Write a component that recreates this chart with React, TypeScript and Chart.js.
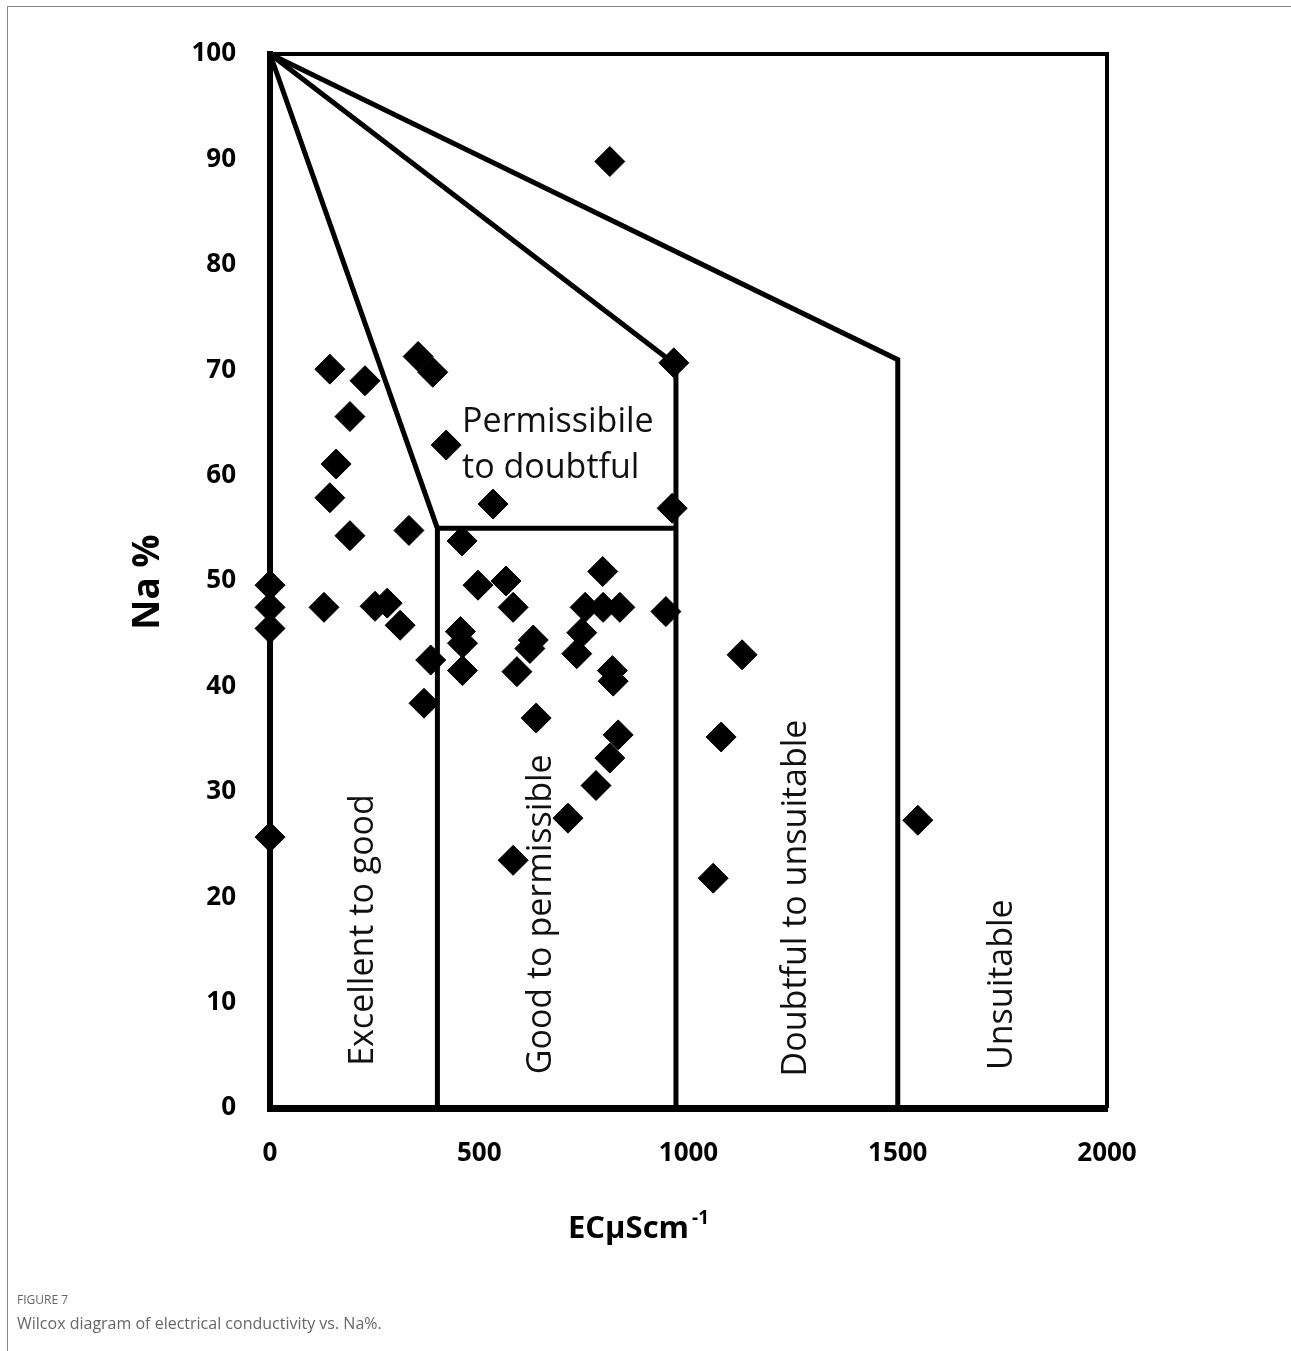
import React, { useEffect, useRef } from "react";
import { Chart, registerables } from "chart.js";

Chart.register(...registerables);

// ---- Data (EC in µS/cm, Na %) ----
const ecValues = [
  812, 965, 143, 227, 354, 389, 191, 421, 158, 143, 533, 961, 191, 332, 459,
  0, 0, 0, 129, 251, 280, 311, 384, 368, 497, 564, 581, 455, 460, 460,
  629, 621, 590, 795, 753, 796, 836, 946, 745, 733, 818, 820, 636, 832, 812,
  779, 712, 581, 1128, 1078, 1059, 1548, 0,
];
const naValues = [
  89.8, 70.7, 70.1, 69.0, 71.3, 69.8, 65.6, 62.9, 61.1, 57.9, 57.3, 56.9, 54.3, 54.8, 53.8,
  49.6, 47.5, 45.5, 47.5, 47.6, 47.9, 45.8, 42.5, 38.4, 49.6, 50.0, 47.5, 45.2, 44.1, 41.5,
  44.4, 43.6, 41.4, 50.9, 47.5, 47.5, 47.5, 47.1, 45.1, 43.1, 41.5, 40.5, 37.0, 35.4, 33.2,
  30.6, 27.5, 23.5, 43.0, 35.2, 21.8, 27.3, 25.7,
];

// ---- Wilcox class boundaries ----
const excellentBoundaryX = [0, 400, 400];
const excellentBoundaryY = [100, 55, 0];
const goodBoundaryX = [400, 970];
const goodBoundaryY = [55, 55];
const permissibleBoundaryX = [0, 970, 970];
const permissibleBoundaryY = [100, 70.5, 0];
const doubtfulBoundaryX = [0, 1500, 1500];
const doubtfulBoundaryY = [100, 71, 0];

// ---- Axis ticks ----
const xTickValues = [0, 500, 1000, 1500, 2000];
const yTickValues = [0, 10, 20, 30, 40, 50, 60, 70, 80, 90, 100];

// ---- Zone labels ----
const zoneLabels = ["Excellent to good", "Good to permissible", "Doubtful to unsuitable", "Unsuitable"];
const zoneLabelX = [222, 648, 1258, 1749];
const zoneLabelStartY = [4.0, 3.2, 3.0, 3.6];
const permissibleLabels = ["Permissibile", "to doubtful"];
const permissibleLabelX = [459, 459];
const permissibleLabelY = [64.1, 59.8];

const yTitle = "Na %";
const xTitleMain = "ECμScm";
const xTitleSup = "-1";

const toPoints = (xs: number[], ys: number[]) => xs.map((x, i) => ({ x, y: ys[i] }));

const boundaryDataset = (xs: number[], ys: number[]) => ({
  data: toPoints(xs, ys),
  showLine: true,
  borderColor: "#000",
  borderWidth: 5,
  pointRadius: 0,
  borderJoinStyle: "miter" as const,
  clip: false as const,
});

const textPlugin = {
  id: "wilcoxText",
  beforeDatasetsDraw(chart: any) {
    const { ctx, chartArea, scales } = chart;
    const xs = scales.x;
    const ys = scales.y;
    ctx.save();
    // frame (top and right)
    ctx.strokeStyle = "#000";
    ctx.lineWidth = 4;
    ctx.beginPath();
    ctx.moveTo(chartArea.left, chartArea.top);
    ctx.lineTo(chartArea.right, chartArea.top);
    ctx.lineTo(chartArea.right, chartArea.bottom);
    ctx.stroke();

    ctx.fillStyle = "#111";
    ctx.font = "34px 'Open Sans'";
    ctx.textAlign = "left";
    ctx.textBaseline = "middle";
    zoneLabels.forEach((label, i) => {
      const px = xs.getPixelForValue(zoneLabelX[i]);
      const py = ys.getPixelForValue(zoneLabelStartY[i]);
      ctx.save();
      ctx.translate(px, py);
      ctx.rotate(-Math.PI / 2);
      ctx.fillText(label, 0, 0);
      ctx.restore();
    });
    ctx.textBaseline = "alphabetic";
    permissibleLabels.forEach((label, i) => {
      ctx.fillText(label, xs.getPixelForValue(permissibleLabelX[i]), ys.getPixelForValue(permissibleLabelY[i]));
    });
    ctx.restore();
  },
  afterDraw(chart: any) {
    const { ctx, chartArea } = chart;
    ctx.save();
    ctx.fillStyle = "#000";
    // y title
    ctx.font = "bold 37px 'Open Sans'";
    ctx.textAlign = "center";
    ctx.textBaseline = "middle";
    ctx.save();
    ctx.translate(148, (chartArea.top + chartArea.bottom) / 2 + 1);
    ctx.rotate(-Math.PI / 2);
    ctx.fillText(yTitle, 0, 0);
    ctx.restore();
    // x title with superscript
    ctx.textAlign = "left";
    ctx.textBaseline = "alphabetic";
    ctx.font = "bold 31px 'Open Sans'";
    const wMain = ctx.measureText(xTitleMain).width;
    ctx.font = "bold 19px 'Open Sans'";
    const wSup = ctx.measureText(xTitleSup).width;
    const cx = (chartArea.left + chartArea.right) / 2 - 50;
    const startX = cx - (wMain + wSup + 3) / 2;
    const baseY = chartArea.bottom + 130;
    ctx.font = "bold 31px 'Open Sans'";
    ctx.fillText(xTitleMain, startX, baseY);
    ctx.font = "bold 19px 'Open Sans'";
    ctx.fillText(xTitleSup, startX + wMain + 3, baseY - 14);
    ctx.restore();
  },
};

export default function App() {
  const canvasRef = useRef<HTMLCanvasElement | null>(null);

  useEffect(() => {
    const canvas = canvasRef.current;
    if (!canvas) return;
    const chart = new Chart(canvas, {
      type: "scatter",
      data: {
        datasets: [
          {
            data: toPoints(ecValues, naValues),
            pointStyle: "rectRot",
            pointRadius: 15,
            pointBackgroundColor: "#000",
            pointBorderColor: "#000",
            pointBorderWidth: 1,
            showLine: false,
            clip: false,
          } as any,
          boundaryDataset(excellentBoundaryX, excellentBoundaryY),
          boundaryDataset(goodBoundaryX, goodBoundaryY),
          boundaryDataset(permissibleBoundaryX, permissibleBoundaryY),
          boundaryDataset(doubtfulBoundaryX, doubtfulBoundaryY),
        ],
      },
      options: {
        responsive: false,
        animation: false,
        events: [],
        layout: { padding: { left: 0, top: 54, right: 184, bottom: 0 } },
        plugins: {
          legend: { display: false },
          tooltip: { enabled: false },
          title: { display: false },
        },
        scales: {
          x: {
            type: "linear",
            min: 0,
            max: 2000,
            grid: { display: false, drawTicks: false },
            border: { display: true, width: 7, color: "#000" },
            afterBuildTicks: (scale: any) => {
              scale.ticks = xTickValues.map((v) => ({ value: v }));
            },
            afterFit: (scale: any) => {
              scale.height = 243;
            },
            ticks: {
              padding: 30,
              color: "#000",
              font: { family: "'Open Sans'", size: 26, weight: "bold" },
              callback: (v: any) => String(v),
            },
          },
          y: {
            type: "linear",
            min: 0,
            max: 100,
            grid: { display: false, drawTicks: false },
            border: { display: true, width: 6, color: "#000" },
            afterBuildTicks: (scale: any) => {
              scale.ticks = yTickValues.map((v) => ({ value: v }));
            },
            afterFit: (scale: any) => {
              scale.width = 270;
            },
            ticks: {
              padding: 34,
              color: "#000",
              font: { family: "'Open Sans'", size: 26, weight: "bold" },
              callback: (v: any) => String(v),
            },
          },
        },
      },
      plugins: [textPlugin],
    } as any);
    return () => chart.destroy();
  }, []);

  return (
    <div style={{ position: "absolute", left: 0, top: 0, width: 1291, height: 1351, overflow: "hidden", background: "#fff" }}>
      <div
        style={{
          position: "absolute",
          left: 7,
          top: 6,
          width: 1284,
          height: 1345,
          borderLeft: "1px solid #888",
          borderTop: "1px solid #888",
        }}
      />
      <canvas ref={canvasRef} width={1291} height={1351} style={{ position: "absolute", left: 0, top: 0, width: 1291, height: 1351 }} />
      <div
        style={{
          position: "absolute",
          left: 17,
          top: 1291,
          fontFamily: "'Open Sans', sans-serif",
          fontSize: 12,
          color: "#666",
        }}
      >
        FIGURE 7
      </div>
      <div
        style={{
          position: "absolute",
          left: 17,
          top: 1312,
          fontFamily: "'Open Sans', sans-serif",
          fontSize: 16,
          color: "#666",
        }}
      >
        Wilcox diagram of electrical conductivity vs. Na%.
      </div>
    </div>
  );
}
